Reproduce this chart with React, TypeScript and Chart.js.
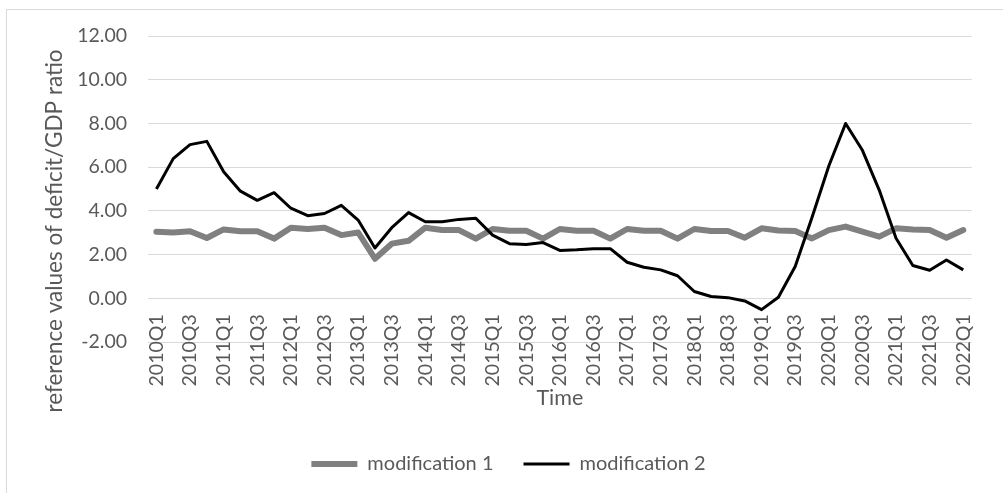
import React, { useEffect, useRef } from "react";
import { Chart, registerables } from "chart.js";

Chart.register(...registerables);

const categories: string[] = [
  "2010Q1", "2010Q2", "2010Q3", "2010Q4",
  "2011Q1", "2011Q2", "2011Q3", "2011Q4",
  "2012Q1", "2012Q2", "2012Q3", "2012Q4",
  "2013Q1", "2013Q2", "2013Q3", "2013Q4",
  "2014Q1", "2014Q2", "2014Q3", "2014Q4",
  "2015Q1", "2015Q2", "2015Q3", "2015Q4",
  "2016Q1", "2016Q2", "2016Q3", "2016Q4",
  "2017Q1", "2017Q2", "2017Q3", "2017Q4",
  "2018Q1", "2018Q2", "2018Q3", "2018Q4",
  "2019Q1", "2019Q2", "2019Q3", "2019Q4",
  "2020Q1", "2020Q2", "2020Q3", "2020Q4",
  "2021Q1", "2021Q2", "2021Q3", "2021Q4",
  "2022Q1",
];

const modification1: number[] = [
  3.04, 3.01, 3.07, 2.76,
  3.15, 3.07, 3.07, 2.73,
  3.23, 3.17, 3.23, 2.89,
  3.01, 1.81, 2.5, 2.63,
  3.23, 3.12, 3.12, 2.73,
  3.17, 3.09, 3.09, 2.73,
  3.17, 3.09, 3.09, 2.73,
  3.17, 3.09, 3.09, 2.73,
  3.17, 3.08, 3.08, 2.77,
  3.2, 3.1, 3.08, 2.74,
  3.12, 3.28, 3.05, 2.82,
  3.2, 3.15, 3.12, 2.77,
  3.12,
];

const modification2: number[] = [
  5.0, 6.39, 7.03, 7.18,
  5.79, 4.9, 4.48, 4.83,
  4.12, 3.78, 3.88, 4.25,
  3.58, 2.3, 3.23, 3.92,
  3.5, 3.5, 3.61, 3.66,
  2.89, 2.5, 2.46, 2.55,
  2.19, 2.22, 2.27, 2.27,
  1.65, 1.42, 1.3, 1.03,
  0.31, 0.08, 0.03, -0.12,
  -0.52, 0.05, 1.45, 3.7,
  6.05, 8.0, 6.77, 4.95,
  2.75, 1.5, 1.28, 1.75,
  1.3,
];

const yMin = -2;
const yMax = 12;
const yStep = 2;

const seriesNames = ["modification 1", "modification 2"];
const xTitle = "Time";
const yTitle = "reference values of deficit/GDP ratio";

const FONT = "Lato";
const TEXT = "#595959";
const GRID = "#d9d9d9";

const framePlugin = {
  id: "frame",
  beforeDraw(chart: any) {
    const { ctx, width, height } = chart;
    ctx.save();
    ctx.fillStyle = "#ffffff";
    ctx.fillRect(0, 0, width, height);
    ctx.strokeStyle = GRID;
    ctx.lineWidth = 1;
    ctx.strokeRect(6.5, 9.5, width + 20, height + 20);
    ctx.restore();
  },
};

const yTitlePlugin = {
  id: "yTitle",
  afterDraw(chart: any) {
    const { ctx, chartArea } = chart;
    ctx.save();
    ctx.fillStyle = TEXT;
    ctx.font = `22.5px ${FONT}`;
    ctx.textAlign = "center";
    ctx.textBaseline = "middle";
    ctx.translate(55, (chartArea.top + chartArea.bottom) / 2 + 42);
    ctx.rotate(-Math.PI / 2);
    ctx.fillText(yTitle, 0, 0);
    ctx.restore();
  },
};

export default function App() {
  const canvasRef = useRef<HTMLCanvasElement | null>(null);

  useEffect(() => {
    const canvas = canvasRef.current;
    if (!canvas) return;
    const chart = new Chart(canvas, {
      type: "line",
      data: {
        labels: categories,
        datasets: [
          {
            label: seriesNames[0],
            data: modification1,
            borderColor: "#808080",
            backgroundColor: "#808080",
            borderWidth: 6,
            borderCapStyle: "round",
            borderJoinStyle: "round",
            pointRadius: 0,
            pointHoverRadius: 0,
            tension: 0,
            xAxisID: "x",
            yAxisID: "y",
            order: 1,
          },
          {
            label: seriesNames[1],
            data: modification2,
            borderColor: "#000000",
            backgroundColor: "#000000",
            borderWidth: 3,
            borderCapStyle: "butt",
            borderJoinStyle: "round",
            pointRadius: 0,
            pointHoverRadius: 0,
            tension: 0,
            xAxisID: "x",
            yAxisID: "y",
            order: 0,
          },
        ],
      },
      options: {
        responsive: false,
        animation: false,
        events: [],
        layout: { padding: { left: 27, top: 36, right: 13, bottom: 9 } },
        plugins: {
          tooltip: { enabled: false },
          legend: {
            display: true,
            position: "bottom",
            labels: {
              usePointStyle: true,
              pointStyle: "line",
              pointStyleWidth: 46,
              padding: 30,
              color: TEXT,
              font: { family: FONT, size: 20 },
              sort: (a: any, b: any) => a.datasetIndex - b.datasetIndex,
            },
          },
        },
        scales: {
          x: {
            type: "category",
            position: { y: 0 } as any,
            offset: true,
            grid: { display: false, drawTicks: false },
            border: { display: false },
            ticks: {
              autoSkip: false,
              minRotation: 90,
              maxRotation: 90,
              padding: 16,
              color: TEXT,
              font: { family: FONT, size: 19.5 },
              callback: (_v: any, i: number) => (i % 2 === 0 ? categories[i] : ""),
            },
            title: {
              display: true,
              text: xTitle,
              color: TEXT,
              font: { family: FONT, size: 21.5 },
              padding: { top: -17, bottom: 0 },
            },
          },
          xSpace: {
            type: "category",
            position: "bottom",
            display: true,
            grid: { display: false, drawTicks: false },
            border: { display: false },
            ticks: { display: false },
            afterFit: (s: any) => {
              s.height = 82;
            },
          },
          y: {
            type: "linear",
            position: "left",
            min: yMin,
            max: yMax,
            grid: { color: GRID, lineWidth: 1, drawTicks: false },
            border: { display: false },
            ticks: {
              stepSize: yStep,
              padding: 21,
              color: TEXT,
              font: { family: FONT, size: 19.5 },
              callback: (v: any) => Number(v).toFixed(2),
            },
            afterFit: (s: any) => {
              s.width = 121;
            },
          },
        },
      },
      plugins: [framePlugin, yTitlePlugin],
    });
    return () => chart.destroy();
  }, []);

  return (
    <div style={{ position: "fixed", left: 0, top: 0, width: 1003, height: 493 }}>
      <canvas ref={canvasRef} width={1003} height={493} style={{ display: "block" }} />
    </div>
  );
}
